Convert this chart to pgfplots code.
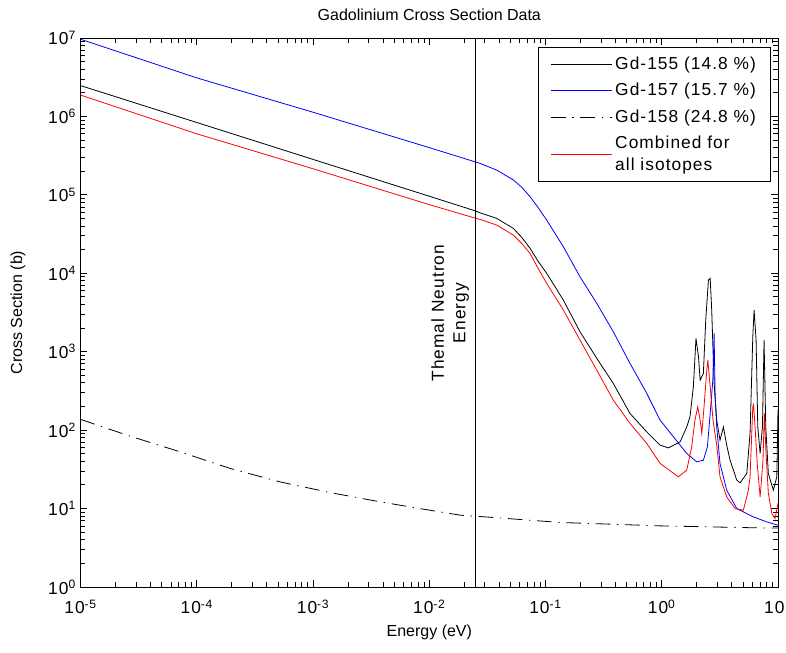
\documentclass[border=0pt]{standalone}
\usepackage{fontspec}
\setmainfont{Liberation Sans}
\newfontfamily\mfont[LetterSpace=6]{Liberation Sans}
\usepackage{pgfplots}
\pgfplotsset{compat=1.18}

\begin{document}
\begin{tikzpicture}
\useasboundingbox (-60.5pt,-49.5pt) rectangle (529pt,440.25pt);
\begin{axis}[
  at={(0pt,0pt)}, anchor=south west,
  scale only axis, width=523pt, height=411.75pt,
  xmode=log, ymode=log,
  xmin=1e-5, xmax=10, ymin=1, ymax=1e7,
  xtick={1e-5,1e-4,1e-3,1e-2,1e-1,1,10},
  xticklabels={10\textsuperscript{-5},10\textsuperscript{-4},10\textsuperscript{-3},10\textsuperscript{-2},10\textsuperscript{-1},10\textsuperscript{0},10\phantom{\textsuperscript{1}}},
  minor xtick={2e-5,3e-5,4e-5,5e-5,6e-5,7e-5,8e-5,9e-5,
    2e-4,3e-4,4e-4,5e-4,6e-4,7e-4,8e-4,9e-4,
    2e-3,3e-3,4e-3,5e-3,6e-3,7e-3,8e-3,9e-3,
    0.02,0.03,0.04,0.05,0.06,0.07,0.08,0.09,
    0.2,0.3,0.4,0.5,0.6,0.7,0.8,0.9,
    2,3,4,5,6,7,8,9},
  ytick={1,10,100,1000,1e4,1e5,1e6,1e7},
  yticklabels={10\textsuperscript{0},10\textsuperscript{1},10\textsuperscript{2},10\textsuperscript{3},10\textsuperscript{4},10\textsuperscript{5},10\textsuperscript{6},10\textsuperscript{7}},
  minor ytick={2,3,4,5,6,7,8,9,
    20,30,40,50,60,70,80,90,
    200,300,400,500,600,700,800,900,
    2e3,3e3,4e3,5e3,6e3,7e3,8e3,9e3,
    2e4,3e4,4e4,5e4,6e4,7e4,8e4,9e4,
    2e5,3e5,4e5,5e5,6e5,7e5,8e5,9e5,
    2e6,3e6,4e6,5e6,6e6,7e6,8e6,9e6},
  xminorticks=true, yminorticks=true,
  tick label style={font=\mfont\fontsize{13}{15}\selectfont},
  xticklabel style={yshift=-6pt},
  tick align=inside,
  xtick pos=both, ytick pos=both,
  major tick length=5pt, minor tick length=3.4pt,
  tick style={draw=black, line width=0.7pt},
  axis line style={line width=0.7pt},
  title={Gadolinium Cross Section Data},
  title style={at={(axis description cs:0.5,1.0273)}, anchor=center, font=\fontsize{12}{14}\selectfont},
  xlabel={Energy (eV)},
  xlabel style={at={(axis description cs:0.5,-0.082)}, anchor=center, font=\fontsize{12}{14}\selectfont},
  ylabel={Cross Section (b)},
  ylabel style={at={(axis description cs:-0.0899,0.5)}, anchor=center, font=\fontsize{12}{14}\selectfont},
  legend style={at={(axis description cs:1,1)}, anchor=north east, xshift=-5.3pt, yshift=-6.75pt,
    draw=black, line width=0.6pt, font=\mfont\fontsize{13}{16}\selectfont, cells={align=left},
    inner xsep=9pt, inner ysep=5pt, row sep=5pt},
  legend cell align=left,
  legend image code/.code={\draw[#1] (0pt,0pt) -- (46pt,0pt);},
  every axis plot/.append style={line width=0.6pt},
]
\addplot[black] coordinates {
  (1e-5,2.47e6) (1e-4,8.36e5) (1e-3,2.83e5) (1e-2,9.6e4) (0.0247,6.27e4) (0.0273,5.91e4)
  (0.038,5.01e4) (0.0528,3.74e4) (0.0624,2.87e4) (0.0736,2.08e4) (0.0861,1.43e4)
  (0.1023,9980) (0.1423,4550) (0.198,1795) (0.276,822)
  (0.383,394) (0.533,163) (0.743,95) (0.966,64.4) (1.14,59.4) (1.44,71) (1.64,110)
  (1.75,148) (1.87,357) (1.97,1480) (2.07,861) (2.14,434) (2.28,529) (2.39,2530)
  (2.52,8180) (2.61,8610) (2.69,3400) (2.82,397) (2.97,134) (3.17,74.5) (3.39,110)
  (3.62,64.4) (3.87,41.4) (4.42,23.0) (4.72,21.3) (5.39,28.0) (5.75,90.8) (6.07,1550)
  (6.23,3400) (6.48,1406) (6.70,110) (7.02,50.5) (7.35,110) (7.59,1406) (7.85,110)
  (8.26,28.0) (9.12,17.2) (9.77,25.4) (10,180)
};
\addlegendentry{Gd-155 (14.8 \%)}
\addplot[blue] coordinates {
  (1e-5,9.63e6) (1e-4,3.1e6) (1e-3,1.13e6) (1e-2,4.0e5) (0.0247,2.64e5) (0.0273,2.52e5)
  (0.038,2.07e5) (0.0528,1.55e5) (0.0624,1.25e5) (0.0736,9.46e4) (0.0861,6.92e4)
  (0.1023,4.77e4) (0.1423,2.18e4) (0.198,9020) (0.276,4130)
  (0.383,1795) (0.533,710) (0.743,294) (0.968,134) (1.64,50.5) (2.0,39.4) (2.28,41.4)
  (2.47,61.2) (2.61,163) (2.75,434) (2.82,1710) (2.88,266) (2.97,110) (3.17,37.6)
  (3.62,17.2) (4.42,10.0) (6.14,7.83) (8.02,6.76) (10,6.14)
};
\addlegendentry{Gd-157 (15.7 \%)}
\addplot[black, dash pattern=on 11pt off 5pt on 1pt off 5pt] coordinates {
  (1e-5,137) (2.66e-5,83.8) (7.17e-5,52.9) (1.93e-4,32.5) (5.18e-4,21.9) (1.40e-3,16.0)
  (3.76e-3,12.2) (8.3e-3,10.0) (0.0184,8.24) (0.025,8.0) (0.134,6.65) (0.966,6.02)
  (7.0,5.67) (10,5.65)
};
\addlegendentry{Gd-158 (24.8 \%)}
\addplot[red] coordinates {
  (1e-5,1.87e6) (1e-4,6.0e5) (1e-3,2.15e5) (1e-2,7.5e4) (0.0247,5.06e4) (0.0273,4.87e4)
  (0.038,4.12e4) (0.0528,3.07e4) (0.0624,2.40e4) (0.0736,1.79e4) (0.0861,1.16e4)
  (0.1023,7430) (0.1423,3400) (0.198,1406) (0.276,582)
  (0.383,241) (0.533,122) (0.743,67.6) (0.968,37.6) (1.39,25.4) (1.64,30.9) (1.81,61.2)
  (1.93,134) (2.04,198) (2.14,134) (2.21,90.8) (2.31,198) (2.44,582) (2.49,781)
  (2.61,357) (2.76,134) (2.97,64.4) (3.17,25.4) (3.62,14.1) (4.28,10.0) (5.04,9.55)
  (5.56,17.2) (5.75,25.4) (6.07,198) (6.16,211) (6.35,110) (6.66,34) (7.02,14.1)
  (7.43,41.4) (7.63,163) (7.89,50.9) (8.26,15.7) (8.85,8.65) (9.44,7.48) (10,11.7)
};
\addlegendentry{Combined for\\all isotopes}
\addplot[black, forget plot] coordinates {(0.025,1) (0.025,1e7)};
\node[rotate=90, align=center, font=\mfont\fontsize{13}{16}\selectfont] at (axis cs:0.0151,3100)
  {Themal Neutron\\Energy};
\end{axis}
\end{tikzpicture}
\end{document}
